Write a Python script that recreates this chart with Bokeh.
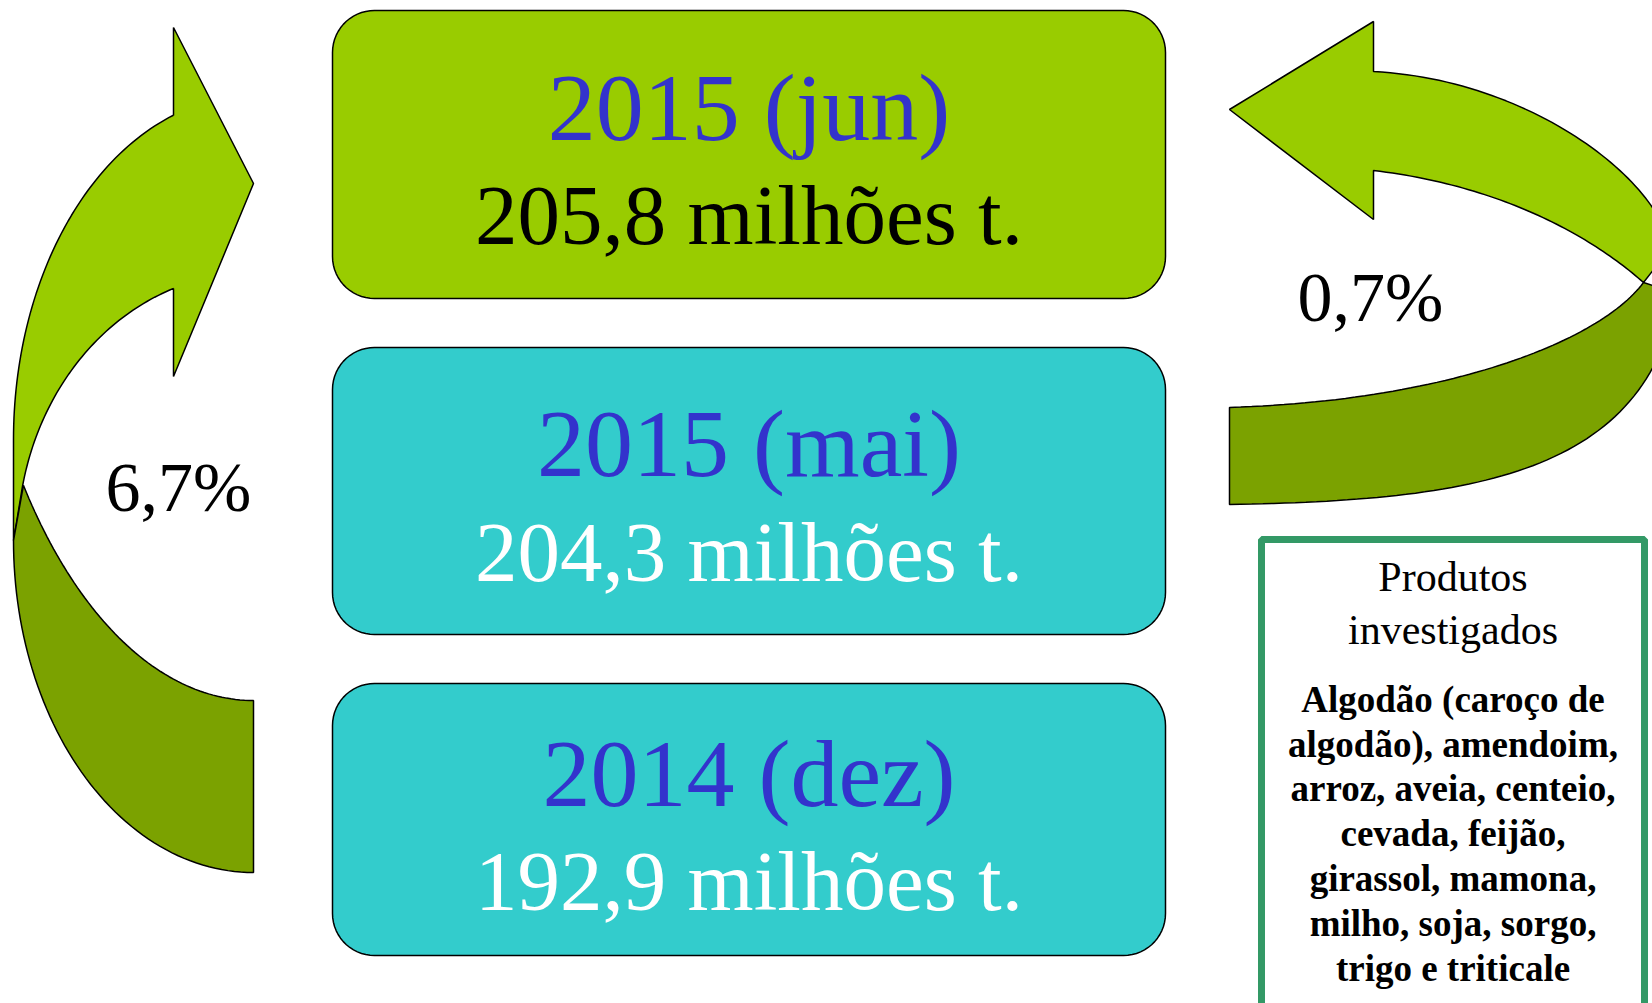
import numpy as np
from bokeh.plotting import figure
from bokeh.models import Range1d
from bokeh.core.properties import value
from bokeh.embed import file_html
from bokeh.resources import INLINE

# ---- content ----
periods = ["2015 (jun)", "2015 (mai)", "2014 (dez)"]
volumes = ["205,8 milhões t.", "204,3 milhões t.", "192,9 milhões t."]
box_fills = ["#99CC00", "#33CCCC", "#33CCCC"]
volume_colors = ["#000000", "#FFFFFF", "#FFFFFF"]
changes = ["6,7%", "0,7%"]
legend_title = ["Produtos", "investigados"]
product_lines = ["Algodão (caroço de", "algodão), amendoim,", "arroz, aveia, centeio,",
                 "cevada, feijão,", "girassol, mamona,", "milho, soja, sorgo,",
                 "trigo e triticale"]

# ---- layout (page pixel coordinates, y downward) ----
W, H = 1652, 1003
BOX_X0, BOX_X1, BOX_R = 332, 1165, 42
box_tops = [10, 347, 683]
box_bottoms = [298, 634, 955]
period_base = [139, 475, 805]
volume_base = [243, 580, 909]
SERIF = "Liberation Serif"
LIGHT, DARK = "#99CC00", "#7BA200"
SHIFT = 0.33  # baseline correction, in em

p = figure(width=W, height=H, x_range=Range1d(0, W), y_range=Range1d(H, 0),
           output_backend="svg", toolbar_location=None, min_border=0,
           x_axis_location=None, y_axis_location=None)
p.grid.visible = False
p.outline_line_color = None
p.background_fill_color = "white"
p.border_fill_color = "white"


def rounded_rect(x0, y0, x1, y1, r, n=16):
    xs, ys = [], []
    for cx, cy, a0 in [(x1 - r, y0 + r, -90), (x1 - r, y1 - r, 0), (x0 + r, y1 - r, 90), (x0 + r, y0 + r, 180)]:
        t = np.radians(np.linspace(a0, a0 + 90, n))
        xs += list(cx + r * np.cos(t))
        ys += list(cy + r * np.sin(t))
    return xs, ys


def arc(cx, cy, a, b, t0, t1, n=60):
    t = np.radians(np.linspace(t0, t1, n))
    return list(cx + a * np.cos(t)), list(cy + b * np.sin(t))


def bez(P, n=60):
    t = np.linspace(0, 1, n)[:, None]
    P = np.array(P, dtype=float)
    pts = ((1 - t) ** 3) * P[0] + 3 * ((1 - t) ** 2) * t * P[1] + 3 * (1 - t) * t ** 2 * P[2] + t ** 3 * P[3]
    return list(pts[:, 0]), list(pts[:, 1])


def txt(xs, ys, texts, size, color="black", bold=False):
    ys = [y - SHIFT * size for y in ys]
    p.text(x=xs, y=ys, text=texts, text_color=color, text_font=value(SERIF),
           text_font_size=value(f"{size}px"), text_font_style="bold" if bold else "normal",
           text_align="center", text_baseline="alphabetic")


# ---- left curved arrow ----
lx, ly = [173, 173, 253, 173, 173], [115, 27, 183, 376, 288]
ax_, ay_ = arc(253, 541, 236, 269, 250.2, 191.8)
lx += ax_; ly += ay_
lx += [13, 13]; ly += [540, 439]
ax_, ay_ = arc(253, 439, 240, 344, 180, 250.5)
lx += ax_; ly += ay_
p.patch(lx, ly, fill_color=LIGHT, line_color="black", line_width=1.5)

dx, dy = arc(253, 150, 290, 550, 142.5, 90)
dx += [253]; dy += [872]
ax_, ay_ = arc(253, 540, 240, 332, 90, 180)
dx += ax_; dy += ay_
p.patch(dx, dy, fill_color=DARK, line_color="black", line_width=1.5)

# ---- right curved arrow ----
rx, ry = [1373, 1373, 1229, 1373, 1373], [71, 21, 109, 219, 170]
bx, by = bez([(1373, 170), (1500, 185), (1590, 235), (1643, 282)])
rx += bx; ry += by
rx += [1668]; ry += [250]
bx, by = bez([(1668, 250), (1668, 190), (1540, 80), (1373, 71)])
rx += bx; ry += by
p.patch(rx, ry, fill_color=LIGHT, line_color="black", line_width=1.5)

ex, ey = bez([(1643, 282), (1600, 340), (1450, 400), (1229, 407)])
ex += [1229]; ey += [504]
bx, by = bez([(1229, 504), (1450, 500), (1620, 480), (1668, 330)])
ex += bx; ey += by
ex += [1668]; ey += [290]
p.patch(ex, ey, fill_color=DARK, line_color="black", line_width=1.5)

# ---- boxes ----
for i in range(3):
    xs, ys = rounded_rect(BOX_X0, box_tops[i], BOX_X1, box_bottoms[i], BOX_R)
    p.patch(xs, ys, fill_color=box_fills[i], line_color="black", line_width=1.5)

cx = (BOX_X0 + BOX_X1) / 2
txt([cx] * 3, period_base, periods, 96, color="#3333CC")
p.text(x=[cx] * 3, y=[v - SHIFT * 85 for v in volume_base], text=volumes, text_color=volume_colors,
       text_font=value(SERIF), text_font_size=value("85px"),
       text_align="center", text_baseline="alphabetic")

# ---- percentages ----
txt([178, 1370], [510, 320], changes, 70)

# ---- products box ----
p.patch([1261, 1644, 1644, 1261], [539, 539, 1012, 1012], fill_color="white",
        line_color="#339966", line_width=7)
lcx = (1261 + 1644) / 2
txt([lcx] * 2, [590, 643], legend_title, 42)
txt([lcx] * len(product_lines), [711 + 44.8 * k for k in range(len(product_lines))],
    product_lines, 37, bold=True)

open("out.html", "w").write(file_html(p, INLINE))
